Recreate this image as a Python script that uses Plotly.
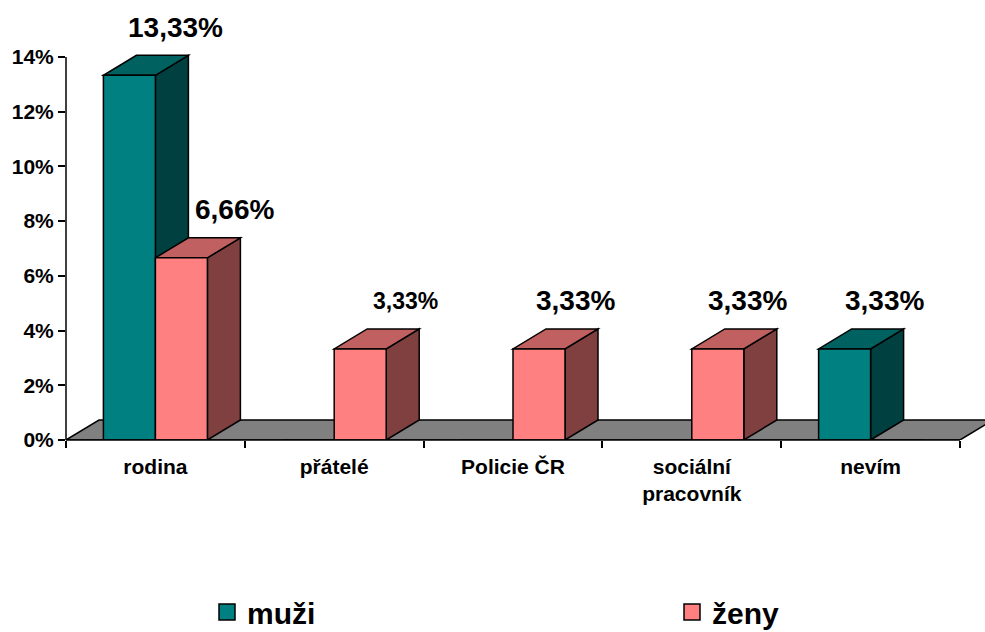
import plotly.graph_objects as go

# ---------------- data ----------------
categories = ["rodina", "přátelé", "Policie ČR", "sociální<br>pracovník", "nevím"]
series_names = ["muži", "ženy"]
muzi = [13.33, 0, 0, 0, 3.33]
zeny = [6.66, 3.33, 3.33, 3.33, 0]
y_tick_values = [0, 2, 4, 6, 8, 10, 12, 14]
y_tick_labels = ["0%", "2%", "4%", "6%", "8%", "10%", "12%", "14%"]

# ---------------- style ----------------
FONT = "Liberation Sans, Arial, sans-serif"
FRONT = {"muži": "#008080", "ženy": "#FF8080"}
TOP = {"muži": "#006161", "ženy": "#C06060"}
SIDE = {"muži": "#004040", "ženy": "#804040"}
FLOOR = "#808080"
LINE_W = 1.5

W, H = 985, 632
ML, MR, MT, MB = 66, 0, 40, 192
plot_w = W - ML - MR
plot_h = H - MT - MB
CAT_PX = 178.8            # pixels per category
Y_PX = 383 / 14           # pixels per percent
x_range = [-0.5, -0.5 + plot_w / CAT_PX]
y_range = [0, plot_h / Y_PX]
BAR_W = 52 / CAT_PX
DX = 33 / CAT_PX          # depth offset (x, category units)
DY = 20 / Y_PX            # depth offset (y, percent units)

# per-label fine placement (pixels) and font sizes
label_xshift = {("muži", 0): 30, ("muži", 4): 23,
                ("ženy", 0): 37, ("ženy", 1): 29, ("ženy", 2): 20, ("ženy", 3): 13}
label_size = {("ženy", 1): 23}

series = {"muži": muzi, "ženy": zeny}
n = len(categories)

fig = go.Figure()

# front faces
for s in series_names:
    fig.add_trace(go.Bar(
        x=categories, y=series[s], name=s, showlegend=False,
        marker=dict(color=FRONT[s], line=dict(color="black", width=LINE_W)),
        hoverinfo="skip",
    ))

# legend entries
for s, lg in zip(series_names, ["legend", "legend2"]):
    fig.add_trace(go.Scatter(
        x=[None], y=[None], mode="markers", name=s, legend=lg,
        marker=dict(symbol="square", size=16, color=FRONT[s],
                    line=dict(color="black", width=LINE_W)),
    ))

shapes = []
# floor
right_end = n - 0.5
shapes.append(dict(
    type="path", xref="x", yref="y", layer="below",
    path=f"M -0.5,0 L {right_end},0 L {right_end + DX},{DY} L {-0.5 + DX},{DY} Z",
    fillcolor=FLOOR, line=dict(color="black", width=LINE_W),
))

annotations = []
for i in range(n):
    for k, s in enumerate(series_names):
        v = series[s][i]
        if not v:
            continue
        xc = i + (k - 0.5) * BAR_W
        left, right = xc - BAR_W / 2, xc + BAR_W / 2
        shapes.append(dict(
            type="path", xref="x", yref="y", layer="below",
            path=(f"M {right},0 L {right + DX},{DY} L {right + DX},{v + DY} "
                  f"L {right},{v} Z"),
            fillcolor=SIDE[s], line=dict(color="black", width=LINE_W),
        ))
        shapes.append(dict(
            type="path", xref="x", yref="y", layer="below",
            path=(f"M {left},{v} L {right},{v} L {right + DX},{v + DY} "
                  f"L {left + DX},{v + DY} Z"),
            fillcolor=TOP[s], line=dict(color="black", width=LINE_W),
        ))
        annotations.append(dict(
            x=xc + DX / 2, y=v + DY, xref="x", yref="y",
            text=f"{v:.2f}".replace(".", ",") + "%",
            showarrow=False, xanchor="center", yanchor="middle",
            xshift=label_xshift.get((s, i), 25), yshift=28,
            font=dict(family=FONT, size=label_size.get((s, i), 28),
                      color="black", weight="bold"),
        ))

# axis lines
shapes.append(dict(type="line", xref="x", yref="paper", layer="above",
                   x0=-0.5, x1=right_end, y0=0, y1=0,
                   line=dict(color="black", width=LINE_W)))
shapes.append(dict(type="line", xref="paper", yref="y", layer="above",
                   x0=0, x1=0, y0=0, y1=y_tick_values[-1],
                   line=dict(color="black", width=LINE_W)))

legend_common = dict(
    orientation="h", y=-0.43, yanchor="middle", xanchor="left",
    bgcolor="rgba(0,0,0,0)", borderwidth=0,
    font=dict(family=FONT, size=30, color="black", weight="bold"),
)

fig.update_layout(
    width=W, height=H,
    margin=dict(l=ML, r=MR, t=MT, b=MB, autoexpand=False),
    paper_bgcolor="white", plot_bgcolor="white",
    barmode="group", bargap=1 - 2 * BAR_W, bargroupgap=0,
    shapes=shapes, annotations=annotations,
    showlegend=True,
    legend=dict(x=(207 - ML) / plot_w, **legend_common),
    legend2=dict(x=(672 - ML) / plot_w, **legend_common),
    xaxis=dict(
        type="category", range=x_range, tickson="boundaries",
        ticks="outside", ticklen=7, tickwidth=LINE_W, tickcolor="black",
        showline=False, showgrid=False, zeroline=False,
        tickfont=dict(family=FONT, size=21, color="black", weight="bold"),
        ticklabelstandoff=12,
    ),
    yaxis=dict(
        range=y_range, tickmode="array", tickvals=y_tick_values,
        ticktext=y_tick_labels,
        ticks="outside", ticklen=7, tickwidth=LINE_W, tickcolor="black",
        showline=False, showgrid=False, zeroline=False,
        tickfont=dict(family=FONT, size=21, color="black", weight="bold"),
    ),
)

fig.write_html(
    "out.html",
    config={"displayModeBar": False},
    post_script="document.body.style.margin='0';document.body.style.overflow='hidden';",
)
